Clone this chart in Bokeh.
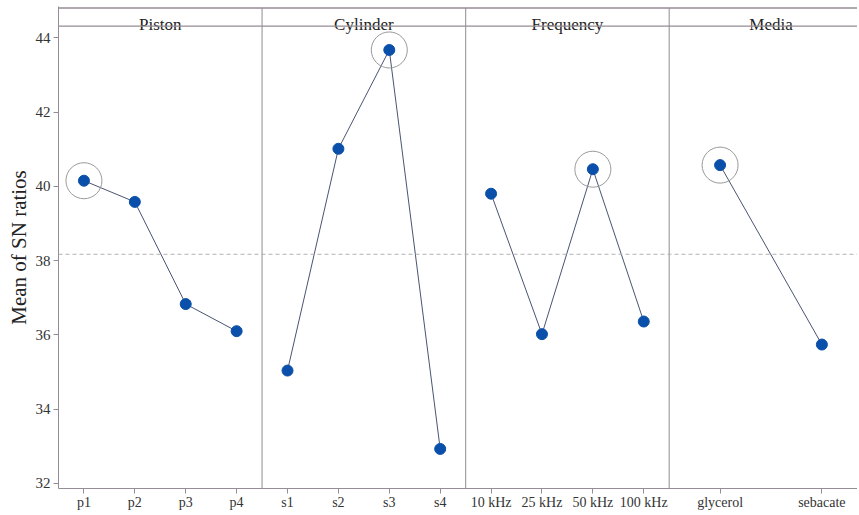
from bokeh.plotting import figure
from bokeh.models import FixedTicker, Span, Range1d
from bokeh.embed import file_html
from bokeh.resources import INLINE
from bokeh.core.properties import value

# ---- data ----
factor_names = ["Piston", "Cylinder", "Frequency", "Media"]
piston_levels = ["p1", "p2", "p3", "p4"]
piston_sn = [40.15, 39.58, 36.83, 36.10]
cylinder_levels = ["s1", "s2", "s3", "s4"]
cylinder_sn = [35.04, 41.01, 43.67, 32.93]
frequency_levels = ["10 kHz", "25 kHz", "50 kHz", "100 kHz"]
frequency_sn = [39.80, 36.02, 40.46, 36.36]
media_levels = ["glycerol", "sebacate"]
media_sn = [40.57, 35.74]
mean_sn = 38.17
y_ticks = [32, 34, 36, 38, 40, 42, 44]

levels = [piston_levels, cylinder_levels, frequency_levels, media_levels]
values = [piston_sn, cylinder_sn, frequency_sn, media_sn]

# ---- layout / style ----
PANEL = 8
Y_LO, Y_HI = 31.865, 44.84
HEADER_BOTTOM = 44.31
HEADER_TOP = 44.80
FONT = value("Liberation Serif")
FRAME_COLOR = "#958d95"
SEP_COLOR = "#a59ea5"
LINE_COLOR = "#4a5472"
DOT_COLOR = "#0a50aa"

p = figure(width=857, height=512,
           x_range=Range1d(0, 31.4), y_range=Range1d(Y_LO, Y_HI),
           output_backend="svg", toolbar_location=None,
           min_border_left=58, min_border_right=0,
           min_border_top=6, min_border_bottom=10)
p.outline_line_color = None
p.grid.visible = False
p.background_fill_color = "white"
p.border_fill_color = "white"

# horizontal lines of the header band
for yy in (HEADER_TOP, HEADER_BOTTOM):
    p.add_layout(Span(location=yy, dimension="width",
                      line_color=FRAME_COLOR, line_width=1.3))

# mean line
p.add_layout(Span(location=mean_sn, dimension="width",
                  line_color="#b4b0b4", line_width=1, line_dash="4 3"))

ticks = []
overrides = {}
for i, (name, lv, vals) in enumerate(zip(factor_names, levels, values)):
    k = len(lv)
    step = PANEL / k
    xs = [int(round(i * PANEL + step * (j + 0.5))) for j in range(k)]
    for x, lab in zip(xs, lv):
        ticks.append(x)
        overrides[x] = lab
    if i > 0:
        p.segment(x0=[i * PANEL], y0=[Y_LO], x1=[i * PANEL], y1=[HEADER_TOP],
                  line_color=SEP_COLOR, line_width=1.2)
    p.text(x=[i * PANEL + PANEL / 2], y=[HEADER_BOTTOM + 0.05], text=[name],
           text_align="center", text_baseline="alphabetic",
           text_font=FONT, text_font_size="17px", text_color="#222222")
    p.line(xs, vals, line_color=LINE_COLOR, line_width=1)
    p.scatter(xs, vals, size=11, fill_color=DOT_COLOR, line_color=DOT_COLOR)
    best = max(range(k), key=lambda j: vals[j])
    p.scatter([xs[best]], [vals[best]], size=36, fill_color=None,
              line_color="#9a9a9a", line_width=1)

# axes
p.xaxis.ticker = FixedTicker(ticks=ticks)
p.xaxis.major_label_overrides = overrides
p.xaxis.minor_tick_line_color = None
p.xaxis.major_tick_in = 0
p.xaxis.major_tick_out = 5
p.xaxis.major_label_standoff = 1
p.xaxis.axis_label_standoff = 0
p.xaxis.axis_line_color = FRAME_COLOR
p.xaxis.major_tick_line_color = FRAME_COLOR
p.xaxis.major_label_text_font = "Liberation Serif"
p.xaxis.major_label_text_font_size = "14px"
p.xaxis.major_label_text_color = "#333333"

p.yaxis.ticker = FixedTicker(ticks=y_ticks)
p.yaxis.minor_tick_line_color = None
p.yaxis.major_tick_in = 0
p.yaxis.major_tick_out = 5
p.yaxis.major_label_standoff = 3
p.yaxis.axis_line_color = FRAME_COLOR
p.yaxis.major_tick_line_color = FRAME_COLOR
p.yaxis.major_label_text_font = "Liberation Serif"
p.yaxis.major_label_text_font_size = "15px"
p.yaxis.major_label_text_color = "#333333"
p.yaxis.axis_label = "Mean of SN ratios"
p.yaxis.axis_label_text_font = "Liberation Serif"
p.yaxis.axis_label_text_font_size = "21px"
p.yaxis.axis_label_text_font_style = "normal"
p.yaxis.axis_label_text_color = "#222222"
p.yaxis.axis_label_standoff = 2

open("out.html", "w").write(file_html(p, INLINE))
